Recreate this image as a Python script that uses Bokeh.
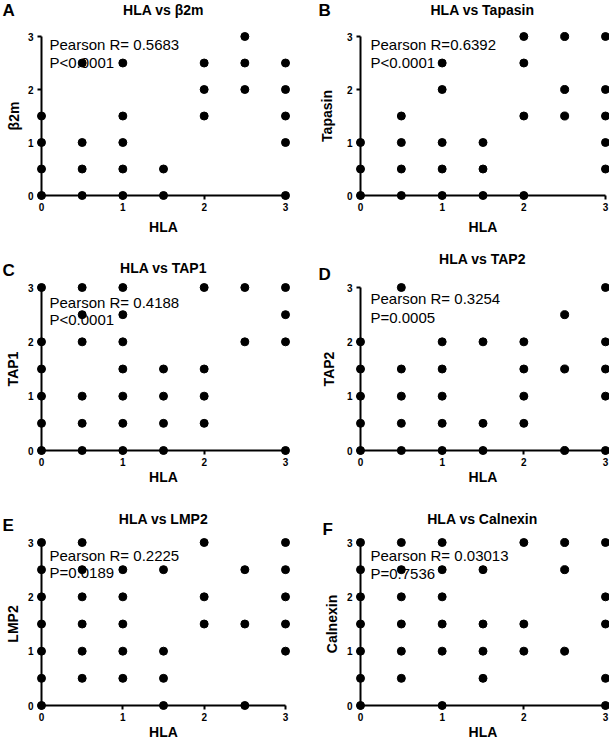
from bokeh.plotting import figure
from bokeh.models import Range1d, Label, FixedTicker
from bokeh.layouts import column, row
from bokeh.embed import file_html
from bokeh.resources import INLINE

# ---------------- data ----------------
hla_a = [0, 0, 0, 0, 0.5, 0.5, 0.5, 0.5, 1, 1, 1, 1, 1, 1.5, 1.5,
         2, 2, 2, 2.5, 2.5, 2.5, 3, 3, 3, 3, 3]
b2m = [0, 0.5, 1, 1.5, 0, 0.5, 1, 2.5, 0, 0.5, 1, 1.5, 2.5, 0, 0.5,
       1.5, 2, 2.5, 2, 2.5, 3, 0, 1, 1.5, 2, 2.5]

hla_b = [0, 0, 0, 0.5, 0.5, 0.5, 0.5, 1, 1, 1, 1, 1, 1.5, 1.5, 1.5,
         2, 2, 2, 2, 2.5, 2.5, 2.5, 3, 3, 3, 3, 3]
tapasin = [0, 0.5, 1, 0, 0.5, 1, 1.5, 0, 0.5, 1, 2, 2.5, 0, 0.5, 1,
           0, 1.5, 2.5, 3, 1.5, 2, 3, 0.5, 1, 1.5, 2, 3]

hla_c = [0, 0, 0, 0, 0, 0, 0.5, 0.5, 0.5, 0.5, 0.5, 0.5,
         1, 1, 1, 1, 1, 1, 1, 1.5, 1.5, 1.5, 1.5, 2, 2, 2, 2,
         2.5, 2.5, 3, 3, 3, 3]
tap1 = [0, 0.5, 1, 1.5, 2, 3, 0, 0.5, 1, 2, 2.5, 3,
        0, 0.5, 1, 1.5, 2, 2.5, 3, 0, 0.5, 1, 1.5, 0.5, 1, 1.5, 3,
        2, 3, 0, 2, 2.5, 3]

hla_d = [0, 0, 0, 0, 0, 0.5, 0.5, 0.5, 0.5, 0.5, 1, 1, 1, 1, 1,
         1.5, 1.5, 1.5, 2, 2, 2, 2, 2.5, 2.5, 2.5, 3, 3, 3, 3, 3]
tap2 = [0, 0.5, 1, 1.5, 2, 0, 0.5, 1, 1.5, 3, 0, 0.5, 1, 1.5, 2,
        0, 0.5, 2, 0.5, 1, 1.5, 2, 0, 1.5, 2.5, 0, 1, 1.5, 2, 3]

hla_e = [0, 0, 0, 0, 0, 0, 0, 0.5, 0.5, 0.5, 0.5, 0.5, 0.5,
         1, 1, 1, 1, 1, 1.5, 1.5, 1.5, 1.5, 2, 2, 2, 2.5, 2.5, 2.5,
         3, 3, 3, 3, 3]
lmp2 = [0, 0.5, 1, 1.5, 2, 2.5, 3, 0.5, 1, 1.5, 2, 2.5, 3,
        0.5, 1, 1.5, 2, 2.5, 0, 0.5, 1, 2.5, 1.5, 2, 3, 0, 1.5, 2.5,
        1, 1.5, 2, 2.5, 3]

hla_f = [0, 0, 0, 0, 0, 0, 0, 0.5, 0.5, 0.5, 0.5, 0.5, 0.5,
         1, 1, 1, 1, 1, 1, 1.5, 1.5, 1.5, 1.5, 2, 2, 2, 2.5, 2.5, 2.5,
         3, 3, 3, 3, 3]
calnexin = [0, 0.5, 1, 1.5, 2, 2.5, 3, 0.5, 1, 1.5, 2, 2.5, 3,
            0, 1, 1.5, 2, 2.5, 3, 0.5, 1, 1.5, 2.5, 1, 1.5, 3, 1, 2.5, 3,
            0, 0.5, 1.5, 2, 3]

axis_ticks = [0, 1, 2, 3]
x_title = "HLA"
titles = ["HLA vs \u03b22m", "HLA vs Tapasin", "HLA vs TAP1",
          "HLA vs TAP2", "HLA vs LMP2", "HLA vs Calnexin"]
y_titles = ["\u03b22m", "Tapasin", "TAP1", "TAP2", "LMP2", "Calnexin"]
letters = ["A", "B", "C", "D", "E", "F"]
stat_r = ["Pearson R= 0.5683", "Pearson R=0.6392", "Pearson R= 0.4188",
          "Pearson R= 0.3254", "Pearson R= 0.2225", "Pearson R= 0.03013"]
stat_p = ["P<0.0001", "P<0.0001", "P<0.0001", "P=0.0005", "P=0.0189", "P=0.7536"]

FONT = "Liberation Sans"


def panel(geom, xs, ys, i):
    (fx, fy, fw, fh, x0p, x3p, y3p, y0p, title_xy, letter_xy,
     stat_x, stat_y1, stat_y2, ylab_standoff, xlab_standoff) = geom
    sx = (x3p - x0p) / 3.0
    sy = (y0p - y3p) / 3.0
    frame_left = x0p - fx
    frame_w = x3p - x0p
    frame_top = y3p - fy
    frame_h = y0p - y3p
    p = figure(frame_width=frame_w, frame_height=frame_h,
               x_range=Range1d(0, 3), y_range=Range1d(0, 3),
               output_backend="svg", toolbar_location=None, title=None,
               min_border_left=frame_left,
               min_border_right=fw - frame_left - frame_w,
               min_border_top=frame_top,
               min_border_bottom=fh - frame_top - frame_h,
               outline_line_color=None, border_fill_color="white",
               background_fill_color="white")
    p.xgrid.visible = False
    p.ygrid.visible = False

    def d(px, py):
        return (px - x0p) / sx, (y0p - py) / sy

    for ax, lab, stand in ((p.xaxis[0], x_title, xlab_standoff),
                           (p.yaxis[0], y_titles[i], ylab_standoff)):
        ax.ticker = FixedTicker(ticks=axis_ticks)
        ax.axis_label = lab
        ax.axis_line_width = 2
        ax.axis_line_color = "black"
        ax.major_tick_line_width = 2
        ax.major_tick_line_color = "black"
        ax.major_tick_out = 4
        ax.major_tick_in = 0
        ax.minor_tick_line_color = None
        ax.major_label_text_font = FONT
        ax.major_label_text_font_style = "bold"
        ax.major_label_text_font_size = "10px"
        ax.major_label_text_color = "black"
        ax.major_label_standoff = 4 if ax is p.yaxis[0] else 3
        ax.axis_label_text_font = FONT
        ax.axis_label_text_font_style = "bold"
        ax.axis_label_text_font_size = "14px"
        ax.axis_label_text_color = "black"
        ax.axis_label_standoff = stand

    r = p.scatter(xs, ys, size=8, color="black")
    r.level = "overlay"

    tx, ty = d(*title_xy)
    p.add_layout(Label(x=tx, y=ty, text=titles[i], text_align="center",
                       text_baseline="middle", text_font=FONT,
                       text_font_style="bold", text_font_size="14px",
                       text_color="black"), "above")
    lx, ly = d(*letter_xy)
    p.add_layout(Label(x=lx, y=ly, text=letters[i], text_align="left",
                       text_baseline="top", text_font=FONT,
                       text_font_style="bold", text_font_size="17px",
                       text_color="black"), "above")
    for txt, py in ((stat_r[i], stat_y1), (stat_p[i], stat_y2)):
        sx_, sy_ = d(stat_x, py)
        p.add_layout(Label(x=sx_, y=sy_, text=txt, text_align="left",
                           text_baseline="middle", text_font=FONT,
                           text_font_size="15px", text_color="black"))
    return p


# page-coordinate geometry of each panel
# (fig x, fig y, fig w, fig h, px of x=0, px of x=3, py of y=3, py of y=0,
#  title centre, letter top-left, stats x, stats line 1 y, line 2 y,
#  y-title standoff, x-title standoff)
geoms = [
    (0, 0, 312, 245, 41, 285, 36, 195, (163, 9), (2, 0), 49, 44, 62, 3, 5),
    (312, 0, 297, 245, 360, 605, 36, 195, (482, 9), (318, 0), 370, 44, 62, 9, 5),
    (0, 245, 312, 247, 41, 285, 287, 450, (163, 267), (2, 260), 49, 302, 319, 4, 0),
    (312, 245, 297, 247, 360, 605, 287, 450, (482, 258), (318, 264), 370, 298, 317, 7, 0),
    (0, 492, 312, 250, 41, 285, 542, 705, (163, 518), (2, 515), 49, 555, 572, 4, 0),
    (312, 492, 297, 250, 360, 605, 542, 705, (482, 518), (322, 519), 370, 555, 573, 4, 0),
]
series = [(hla_a, b2m), (hla_b, tapasin), (hla_c, tap1),
          (hla_d, tap2), (hla_e, lmp2), (hla_f, calnexin)]

figs = [panel(g, s[0], s[1], i) for i, (g, s) in enumerate(zip(geoms, series))]
layout = column(row(figs[0], figs[1]), row(figs[2], figs[3]), row(figs[4], figs[5]))

open("out.html", "w").write(file_html(layout, INLINE))
